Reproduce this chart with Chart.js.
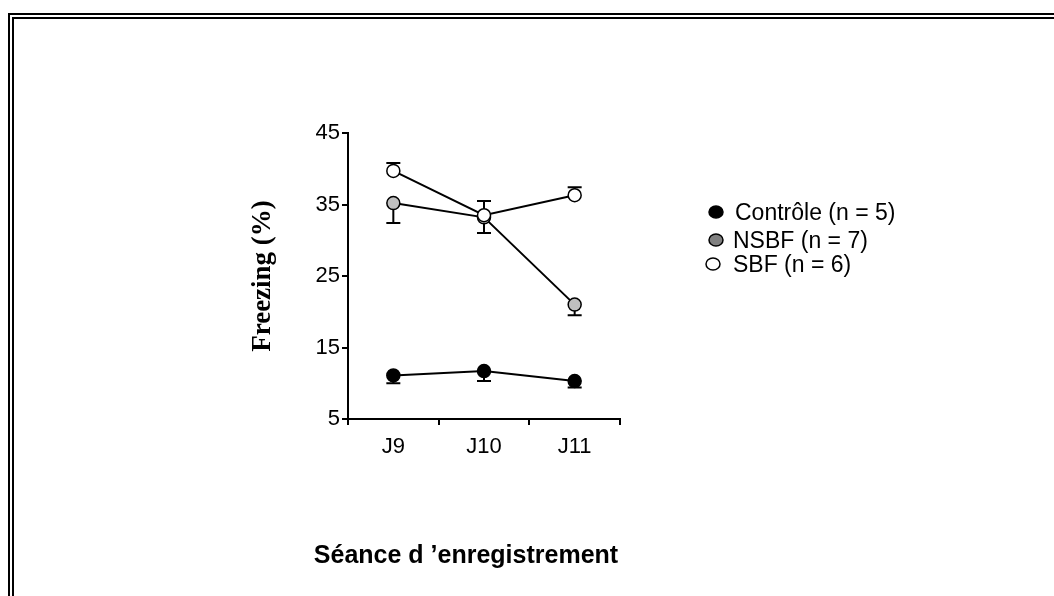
<!DOCTYPE html>
<html>
<head>
<meta charset="utf-8">
<script src="https://cdn.jsdelivr.net/npm/chart.js@4"></script>
<style>
  body { margin: 0; background: #fff; }
  #wrap { position: relative; width: 1054px; height: 596px; overflow: hidden; }
  #cadre {
    position: absolute; left: 8px; top: 13px; width: 1100px; height: 650px;
    border-left: 6px double #000; border-top: 6px double #000;
    pointer-events: none;
  }
</style>
</head>
<body>
<div id="wrap">
  <canvas id="grafica" width="1054" height="596"></canvas>
  <div id="cadre"></div>
</div>
<script>
const seances = ['J9', 'J10', 'J11'];
const yTicks = [5, 15, 25, 35, 45];

const controle = [11.1, 11.7, 10.3];
const controleErr = [1.1, 1.4, 0.9];   // vers le bas
const nsbf = [35.2, 33.2, 21.0];
const nsbfErr = [2.8, 2.2, 1.5];       // vers le bas
const sbf = [39.7, 33.5, 36.3];
const sbfErr = [1.1, 2.0, 1.1];        // vers le haut

const labelsGroupes = ['Contrôle (n = 5)', 'NSBF (n = 7)', 'SBF (n = 6)'];

const sans = '"Liberation Sans", Arial, sans-serif';
const serif = '"Liberation Serif", "Times New Roman", serif';

// barres d'erreur, dessinées sous les points
const barresErreur = {
  id: 'barresErreur',
  beforeDatasetsDraw(chart) {
    const ctx = chart.ctx;
    const x = chart.scales.x, y = chart.scales.y;
    ctx.save();
    ctx.strokeStyle = '#000';
    ctx.lineWidth = 2;
    chart.data.datasets.forEach(ds => {
      ds.data.forEach((v, i) => {
        const px = x.getPixelForValue(i);
        const p0 = y.getPixelForValue(v);
        const p1 = y.getPixelForValue(v + ds.errSens * ds.err[i]);
        ctx.beginPath();
        ctx.moveTo(px, p0);
        ctx.lineTo(px, p1);
        ctx.moveTo(px - 7, p1);
        ctx.lineTo(px + 7, p1);
        ctx.stroke();
      });
    });
    ctx.restore();
  }
};

// légende et titre de l'axe x
const legendeEtTitre = {
  id: 'legendeEtTitre',
  afterDraw(chart) {
    const ctx = chart.ctx;
    const area = chart.chartArea;
    ctx.save();
    ctx.font = '23px ' + sans;
    ctx.textBaseline = 'middle';
    ctx.fillStyle = '#000';
    const fonds = ['#000000', '#808080', '#ffffff'];
    const rangs = [214, 242, 266];
    labelsGroupes.forEach((txt, i) => {
      const cy = rangs[i];
      ctx.beginPath();
      ctx.ellipse(i === 2 ? 713 : 716, cy - 2, 7, 6, 0, 0, Math.PI * 2);
      ctx.fillStyle = fonds[i];
      ctx.fill();
      ctx.lineWidth = 1.5;
      ctx.strokeStyle = '#000';
      ctx.stroke();
      ctx.fillStyle = '#000';
      ctx.fillText(txt, i === 0 ? 735 : 733, cy);
    });

    ctx.font = 'bold 25px ' + sans;
    ctx.textAlign = 'center';
    ctx.fillText('Séance d \u2019enregistrement', (area.left + area.right) / 2 - 18, 556);
    ctx.restore();
  }
};

const ctx = document.getElementById('grafica').getContext('2d');
new Chart(ctx, {
  type: 'line',
  data: {
    labels: seances,
    datasets: [
      {
        label: labelsGroupes[0], data: controle, err: controleErr, errSens: -1,
        borderColor: '#000', borderWidth: 2, pointBackgroundColor: '#000',
        pointBorderColor: '#000', pointBorderWidth: 1.5, pointRadius: 6.5, order: 2
      },
      {
        label: labelsGroupes[1], data: nsbf, err: nsbfErr, errSens: -1,
        borderColor: '#000', borderWidth: 2, pointBackgroundColor: '#c0c0c0',
        pointBorderColor: '#000', pointBorderWidth: 1.5, pointRadius: 6.5, order: 1
      },
      {
        label: labelsGroupes[2], data: sbf, err: sbfErr, errSens: 1,
        borderColor: '#000', borderWidth: 2, pointBackgroundColor: '#fff',
        pointBorderColor: '#000', pointBorderWidth: 1.5, pointRadius: 6.5, order: 0
      }
    ]
  },
  options: {
    responsive: false,
    animation: false,
    devicePixelRatio: 1,
    layout: { padding: { left: 240, right: 434, top: 133, bottom: 20 } },
    plugins: { legend: { display: false }, tooltip: { enabled: false } },
    elements: { line: { tension: 0 } },
    scales: {
      x: {
        offset: true,
        afterFit(scale) { scale.height = 157; },
        grid: { display: true, drawOnChartArea: false, offset: true, color: '#000', lineWidth: 2, tickLength: 6 },
        border: { display: true, color: '#000', width: 2 },
        ticks: { color: '#000', font: { family: sans, size: 22 }, padding: 9 }
      },
      y: {
        min: 5,
        max: 45,
        afterFit(scale) { scale.width = 108; },
        afterBuildTicks(scale) { scale.ticks = yTicks.map(v => ({ value: v })); },
        grid: { display: true, drawOnChartArea: false, color: '#000', lineWidth: 2, tickLength: 6 },
        border: { display: true, color: '#000', width: 2 },
        ticks: { color: '#000', font: { family: sans, size: 22 }, padding: 2 },
        title: {
          display: true,
          text: 'Freezing (%)',
          color: '#000',
          font: { family: serif, size: 27, weight: 'bold' },
          padding: { top: 7, bottom: 0 }
        }
      }
    }
  },
  plugins: [barresErreur, legendeEtTitre]
});
</script>
</body>
</html>
